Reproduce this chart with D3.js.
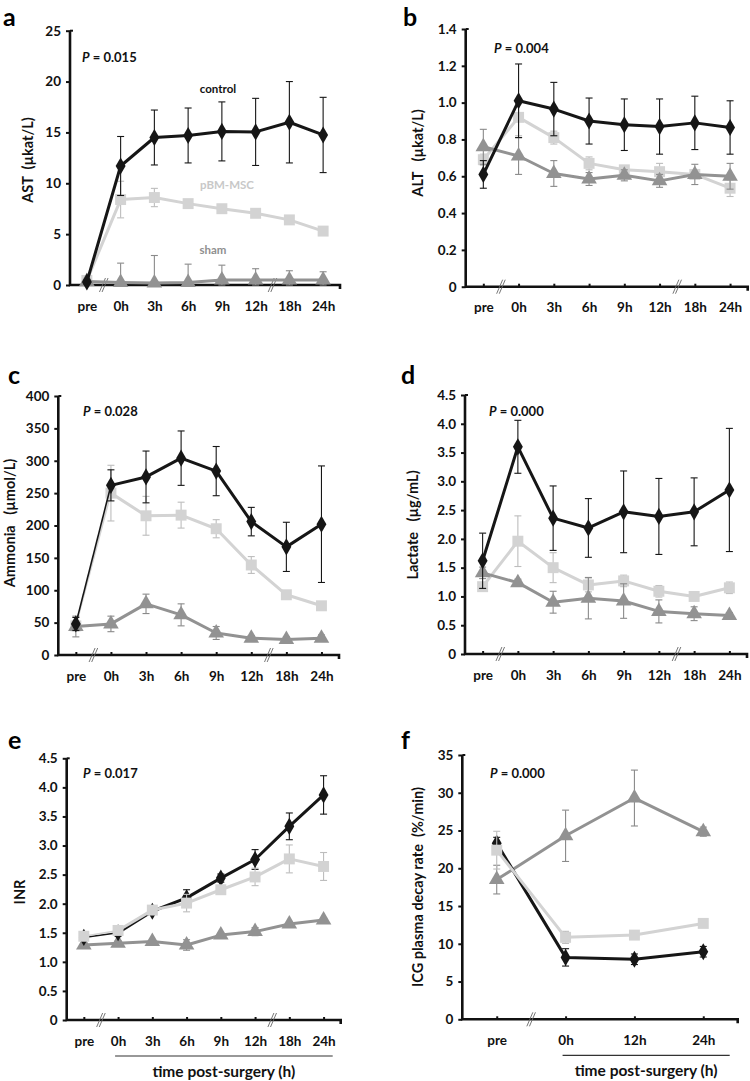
<!DOCTYPE html>
<html><head><meta charset="utf-8">
<script src="https://cdn.jsdelivr.net/npm/d3@7"></script>
<style>
html,body{margin:0;padding:0;background:#fff;}
svg{display:block;}
text{font-family:Lato,'Open Sans',sans-serif;font-weight:bold;}
</style></head>
<body>
<svg id="chart" width="750" height="1081"></svg>
<script>
// ---------- DATA ----------
const timeCats = ["pre","0h","3h","6h","9h","12h","18h","24h"];
const icgCats = ["pre","0h","12h","24h"];
const seriesNames = ["control","pBM-MSC","sham"];

// a: AST (µkat/L)
const astControl = [0.3, 11.7, 14.5, 14.7, 15.1, 15.05, 16.0, 14.75];
const astControlErr = [0.2, 2.9, 2.7, 2.7, 2.9, 3.3, 4.0, 3.7];
const astMsc = [0.45, 8.4, 8.6, 8.0, 7.5, 7.05, 6.4, 5.3];
const astMscErr = [0.2, 1.8, 0.9, 0.3, 0.3, 0.3, 0.3, 0.3];
const astSham = [0.35, 0.25, 0.2, 0.25, 0.5, 0.5, 0.5, 0.5];
const astShamErr = [0.2, 1.9, 2.7, 1.8, 1.45, 1.1, 0.9, 0.8];

// b: ALT (µkat/L)
const altControl = [0.61, 1.01, 0.965, 0.90, 0.88, 0.87, 0.89, 0.865];
const altControlErr = [0.075, 0.2, 0.145, 0.125, 0.14, 0.15, 0.145, 0.145];
const altMsc = [0.69, 0.92, 0.81, 0.67, 0.635, 0.625, 0.61, 0.535];
const altMscErr = [0.03, 0.1, 0.035, 0.035, 0.02, 0.045, 0.02, 0.045];
const altSham = [0.76, 0.71, 0.615, 0.585, 0.605, 0.575, 0.61, 0.60];
const altShamErr = [0.095, 0.1, 0.07, 0.035, 0.03, 0.035, 0.055, 0.07];

// c: Ammonia (µmol/L)
const nh3Control = [48, 262, 275, 304, 284, 206, 167, 202];
const nh3ControlErr = [10, 24, 40, 42, 38, 22, 38, 90];
const nh3Msc = [45, 250, 215, 216, 195, 139, 93, 76];
const nh3MscErr = [8, 43, 30, 20, 14, 13, 4, 4];
const nh3Sham = [44, 48, 79, 62, 34, 26, 24, 26];
const nh3ShamErr = [16, 12, 15, 17, 10, 4, 4, 5];

// d: Lactate (µg/mL)
const lacControl = [1.62, 3.6, 2.36, 2.19, 2.47, 2.39, 2.47, 2.85];
const lacControlErr = [0.48, 0.46, 0.56, 0.51, 0.71, 0.66, 0.59, 1.07];
const lacMsc = [1.17, 1.96, 1.5, 1.2, 1.27, 1.09, 1.0, 1.15];
const lacMscErr = [0.06, 0.44, 0.26, 0.12, 0.1, 0.1, 0.05, 0.1];
const lacSham = [1.41, 1.24, 0.9, 0.97, 0.92, 0.74, 0.7, 0.67];
const lacShamErr = [0.1, 0.06, 0.19, 0.36, 0.3, 0.2, 0.12, 0.05];

// e: INR
const inrControl = [1.42, 1.5, 1.87, 2.1, 2.44, 2.76, 3.33, 3.87];
const inrControlErr = [0.03, 0.06, 0.04, 0.14, 0.07, 0.17, 0.23, 0.33];
const inrMsc = [1.44, 1.54, 1.89, 2.01, 2.24, 2.46, 2.77, 2.64];
const inrMscErr = [0.03, 0.04, 0.04, 0.15, 0.06, 0.15, 0.24, 0.24];
const inrSham = [1.29, 1.32, 1.35, 1.29, 1.46, 1.52, 1.65, 1.72];
const inrShamErr = [0.03, 0.04, 0.03, 0.09, 0.03, 0.07, 0.03, 0.03];

// f: ICG plasma decay rate (%/min)
const icgControl = [23.3, 8.2, 7.95, 8.95];
const icgControlErr = [0.8, 1.15, 0.7, 0.7];
const icgMsc = [22.4, 10.85, 11.15, 12.7];
const icgMscErr = [2.5, 0.8, 0.5, 0.5];
const icgSham = [18.5, 24.3, 29.3, 24.85];
const icgShamErr = [1.9, 3.4, 3.7, 0.6];

// tick values
const astTicks = [0,5,10,15,20,25];
const altTicks = [0,0.2,0.4,0.6,0.8,1.0,1.2,1.4];
const nh3Ticks = [0,50,100,150,200,250,300,350,400];
const lacTicks = [0,0.5,1.0,1.5,2.0,2.5,3.0,3.5,4.0,4.5];
const inrTicks = [0,0.5,1.0,1.5,2.0,2.5,3.0,3.5,4.0,4.5];
const icgTicks = [0,5,10,15,20,25,30,35];

// ---------- STYLE ----------
const colors = {"control":"#161616","pBM-MSC":"#d3d3d3","sham":"#929292"};
const errColors = {"control":"#161616","pBM-MSC":"#bdbdbd","sham":"#8a8a8a"};
const symbols = {"control":d3.symbolDiamond,"pBM-MSC":d3.symbolSquare,"sham":d3.symbolTriangle};
const symSize = {"control":85,"pBM-MSC":120,"sham":105};

const fmt1 = v => v === 0 ? "0" : d3.format(".1f")(v);
const fmt0 = v => String(v);
const orderDefault = ["pBM-MSC","sham","control"];
const orderLightTop = ["sham","control","pBM-MSC"];

const panels = [
  {letter:"a", lx:3, ly:26, x0:70, x1:340, yTop:30.7, y0:285, cats:timeCats, ticks:astTicks, fmt:fmt0,
   order:orderDefault, vals:[astControl,astMsc,astSham], errs:[astControlErr,astMscErr,astShamErr],
   yLabel:"AST  (µkat/L)", ylx:28, yly:160, p:"0.015", px:82, py:62, breaks:[0,5], thinFirst:false, timeLine:false,
   seriesLabels:true},
  {letter:"b", lx:403, ly:26, x0:465.7, x1:747.7, yTop:29, y0:286.7, cats:timeCats, ticks:altTicks, fmt:fmt1,
   order:orderDefault, vals:[altControl,altMsc,altSham], errs:[altControlErr,altMscErr,altShamErr],
   yLabel:"ALT   (µkat/L)", ylx:418, yly:153, p:"0.004", px:494, py:53, breaks:[0,5], thinFirst:false, timeLine:false},
  {letter:"c", lx:8, ly:384, x0:58.3, x1:339, yTop:396, y0:655, cats:timeCats, ticks:nh3Ticks, fmt:fmt0,
   order:orderDefault, vals:[nh3Control,nh3Msc,nh3Sham], errs:[nh3ControlErr,nh3MscErr,nh3ShamErr],
   yLabel:"Ammonia   (µmol/L)", ylx:10, yly:523, p:"0.028", px:83, py:416, breaks:[0,5], thinFirst:true, timeLine:false},
  {letter:"d", lx:401, ly:384, x0:465, x1:747, yTop:395, y0:654, cats:timeCats, ticks:lacTicks, fmt:fmt1,
   order:orderDefault, vals:[lacControl,lacMsc,lacSham], errs:[lacControlErr,lacMscErr,lacShamErr],
   yLabel:"Lactate   (µg/mL)", ylx:413, yly:525, p:"0.000", px:489, py:416, breaks:[0,5], thinFirst:false, timeLine:false},
  {letter:"e", lx:8, ly:749, x0:66.7, x1:340.7, yTop:758.3, y0:1020, cats:timeCats, ticks:inrTicks, fmt:fmt1,
   order:orderLightTop, vals:[inrControl,inrMsc,inrSham], errs:[inrControlErr,inrMscErr,inrShamErr],
   yLabel:"INR", ylx:20, yly:892, p:"0.017", px:83, py:778, breaks:[0,5], thinFirst:true, timeLine:true},
  {letter:"f", lx:401, ly:749, x0:462.3, x1:737.7, yTop:755, y0:1019.3, cats:icgCats, ticks:icgTicks, fmt:fmt0,
   order:orderLightTop, vals:[icgControl,icgMsc,icgSham], errs:[icgControlErr,icgMscErr,icgShamErr],
   yLabel:"ICG plasma decay rate  (%/min)", ylx:418, yly:887, p:"0.000", px:490, py:778, breaks:[0], thinFirst:false, timeLine:true}
];

const svg = d3.select("#chart");
const tickFont = 13.5;

panels.forEach(P => {
  const g = svg.append("g");
  const maxV = P.ticks[P.ticks.length-1];
  const x = d3.scalePoint().domain(P.cats).range([P.x0, P.x1]).padding(0.5);
  const y = d3.scaleLinear().domain([0, maxV]).range([P.y0, P.yTop]);

  g.append("text").attr("x", P.lx).attr("y", P.ly).attr("font-size", 25).text(P.letter);

  const ya = g.append("g").attr("transform", `translate(${P.x0},0)`)
    .call(d3.axisLeft(y).tickValues(P.ticks).tickFormat(P.fmt).tickSize(4).tickSizeOuter(0).tickPadding(5));
  ya.select(".domain").remove();
  ya.selectAll(".tick line").attr("stroke", "#111").attr("stroke-width", 2);
  ya.selectAll(".tick text").attr("font-size", tickFont).attr("fill", "#111")
    .attr("font-family", "Lato,'Open Sans',sans-serif").attr("font-weight", "bold");
  g.append("line").attr("x1", P.x0).attr("x2", P.x0 + 3).attr("y1", y(maxV)).attr("y2", y(maxV))
    .attr("stroke", "#111").attr("stroke-width", 2);

  const xa = g.append("g").attr("transform", `translate(0,${P.y0})`)
    .call(d3.axisBottom(x).tickSize(-3).tickSizeOuter(0).tickPadding(16));
  xa.select(".domain").remove();
  xa.selectAll(".tick line").attr("stroke", "#111").attr("stroke-width", 2);
  xa.selectAll(".tick text").attr("font-size", tickFont).attr("fill", "#111")
    .attr("font-family", "Lato,'Open Sans',sans-serif").attr("font-weight", "bold");

  g.append("path")
    .attr("d", `M${P.x0},${y(maxV)}V${P.y0}H${P.x1}v4`)
    .attr("fill", "none").attr("stroke", "#111").attr("stroke-width", 2.6);

  P.breaks.forEach(i => {
    const bx = (x(P.cats[i]) + x(P.cats[i+1])) / 2;
    [-1.3, 1.3].forEach(off => {
      g.append("line").attr("x1", bx - 3 + off).attr("y1", P.y0 + 7).attr("x2", bx + 3 + off).attr("y2", P.y0 - 7)
        .attr("stroke", "#666").attr("stroke-width", 0.9);
    });
  });

  P.order.forEach(name => {
    const si = seriesNames.indexOf(name);
    const vals = P.vals[si], errs = P.errs[si];
    const pts = P.cats.map((c, i) => ({c, v: vals[i], e: errs[i]}));
    const sg = g.append("g");
    pts.forEach(d => {
      const cx = x(d.c), yt = y(d.v + d.e), yb = y(Math.max(0, d.v - d.e));
      sg.append("line").attr("x1", cx).attr("x2", cx).attr("y1", yt).attr("y2", yb)
        .attr("stroke", errColors[name]).attr("stroke-width", 1.1);
      [yt, yb].forEach(yy => sg.append("line").attr("x1", cx - 3.5).attr("x2", cx + 3.5).attr("y1", yy).attr("y2", yy)
        .attr("stroke", errColors[name]).attr("stroke-width", 1.1));
    });
    const line = d3.line().x(d => x(d.c)).y(d => y(d.v));
    if (P.thinFirst && name !== "sham") {
      sg.append("path").attr("d", line(pts.slice(0, 2))).attr("fill", "none")
        .attr("stroke", colors[name]).attr("stroke-width", 1.6);
      sg.append("path").attr("d", line(pts.slice(1))).attr("fill", "none")
        .attr("stroke", colors[name]).attr("stroke-width", 3).attr("stroke-linejoin", "round");
    } else {
      sg.append("path").attr("d", line(pts)).attr("fill", "none")
        .attr("stroke", colors[name]).attr("stroke-width", 3).attr("stroke-linejoin", "round");
    }
    sg.selectAll("path.m").data(pts).join("path").attr("class", "m")
      .attr("transform", d => `translate(${x(d.c)},${y(d.v)})`)
      .attr("d", d3.symbol().type(symbols[name]).size(symSize[name]))
      .attr("fill", colors[name]);
  });

  const pt = g.append("text").attr("x", P.px).attr("y", P.py).attr("font-size", 13).attr("fill", "#111");
  pt.append("tspan").attr("font-style", "italic").text("P");
  pt.append("tspan").text(" = " + P.p);

  g.append("text").attr("transform", `translate(${P.ylx},${P.yly}) rotate(-90)`)
    .attr("text-anchor", "middle").attr("dy", "0.35em").attr("font-size", 14.5).attr("fill", "#111")
    .style("white-space", "pre").text(P.yLabel);

  if (P.timeLine) {
    const lx0 = x(P.cats[1]) - 3, lx1 = P.x1 - 8;
    g.append("line").attr("x1", lx0).attr("x2", lx1).attr("y1", P.y0 + 36).attr("y2", P.y0 + 36)
      .attr("stroke", "#333").attr("stroke-width", 1.2);
    g.append("text").attr("x", (lx0 + lx1) / 2).attr("y", P.y0 + 57).attr("text-anchor", "middle")
      .attr("font-size", 15.5).attr("fill", "#111").text("time post-surgery (h)");
  }

  if (P.seriesLabels) {
    const lab = [["control", 218, 93], ["pBM-MSC", 227, 189], ["sham", 213, 254]];
    lab.forEach(([n, lx, ly]) => g.append("text").attr("x", lx).attr("y", ly).attr("text-anchor", "middle")
      .attr("font-family", "'Liberation Sans',Arial,sans-serif").attr("font-size", 11.5)
      .attr("fill", n === "control" ? "#111" : (n === "sham" ? "#8f8f8f" : "#c8c8c8")).text(n));
  }
});
</script>
</body></html>
